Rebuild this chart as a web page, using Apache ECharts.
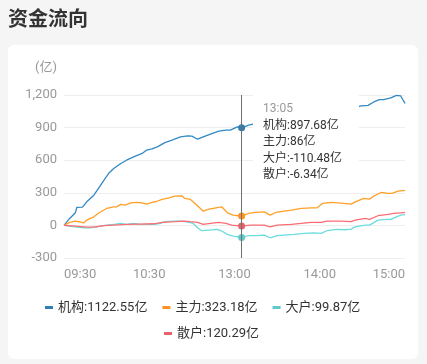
<!DOCTYPE html>
<html>
<head>
<meta charset="utf-8">
<script src="https://cdn.jsdelivr.net/npm/echarts@6/dist/echarts.min.js"></script>
<style>
  html, body { margin:0; padding:0; width:427px; height:364px; background:#f5f5f5; overflow:hidden; }
  #card { position:absolute; left:8px; top:45px; width:410px; height:314px; background:#fff; border-radius:6px; }
  #chart { position:absolute; left:0; top:0; width:427px; height:364px; }
</style>
</head>
<body>
<div id="card"></div>
<div id="chart"></div>
<script>
// ---- data ----
const titleText = '资金流向';
const unitName = '(亿)';
const tickLabels = ['09:30', '10:30', '13:00', '14:00', '15:00'];
const seriesNames = ['机构', '主力', '大户', '散户'];
const seriesColors = ['#2f7db3', '#ff9224', '#62c8c9', '#e6636a'];
const focusTime = '13:05';

// trading minutes: 09:30-11:29 and 13:00-15:00
const categories = [];
for (let m = 9 * 60 + 30; m < 11 * 60 + 30; m++) categories.push(String(Math.floor(m / 60)).padStart(2, '0') + ':' + String(m % 60).padStart(2, '0'));
for (let m = 13 * 60; m <= 15 * 60; m++) categories.push(String(Math.floor(m / 60)).padStart(2, '0') + ':' + String(m % 60).padStart(2, '0'));

const jigou = [
  ['09:30', 0], ['09:34', 64], ['09:38', 116], ['09:39', 165], ['09:43', 168], ['09:46', 217],
  ['09:51', 278], ['09:55', 355], ['09:59', 432], ['10:02', 487], ['10:05', 524], ['10:10', 570],
  ['10:14', 600], ['10:19', 630], ['10:25', 662], ['10:28', 692], ['10:32', 705], ['10:36', 725],
  ['10:41', 762], ['10:46', 784], ['10:52', 814], ['10:57', 823], ['11:00', 821], ['11:04', 793],
  ['11:08', 814], ['11:14', 845], ['11:19', 867], ['11:24', 876], ['11:27', 876], ['13:02', 906],
  ['13:05', 897.68], ['13:10', 922], ['13:13', 931], ['13:20', 945], ['13:30', 965], ['13:40', 990],
  ['13:50', 1010], ['14:00', 1030], ['14:10', 1050], ['14:18', 1070], ['14:25', 1084], ['14:29', 1099],
  ['14:34', 1105], ['14:38', 1136], ['14:42', 1158], ['14:45', 1158], ['14:50', 1173], ['14:54', 1197],
  ['14:57', 1191], ['15:00', 1122.55]
];
const zhuli = [
  ['09:30', 0], ['09:34', 28], ['09:38', 40], ['09:41', 33], ['09:44', 24], ['09:46', 49],
  ['09:51', 79], ['09:55', 119], ['10:00', 156], ['10:05', 171], ['10:07', 171], ['10:10', 193],
  ['10:13', 187], ['10:17', 208], ['10:21', 211], ['10:25', 208], ['10:28', 196], ['10:32', 211],
  ['10:35', 220], ['10:39', 239], ['10:44', 254], ['10:48', 269], ['10:53', 272], ['10:55', 248],
  ['10:59', 239], ['11:03', 193], ['11:06', 156], ['11:08', 131], ['11:12', 150], ['11:17', 162],
  ['11:21', 171], ['11:25', 116], ['11:29', 95], ['13:05', 86], ['13:10', 110], ['13:15', 119],
  ['13:21', 125], ['13:25', 95], ['13:29', 119], ['13:35', 131], ['13:40', 141], ['13:47', 156],
  ['13:54', 162], ['13:58', 162], ['14:02', 202], ['14:08', 211], ['14:15', 205], ['14:22', 196],
  ['14:25', 217], ['14:31', 248], ['14:35', 242], ['14:38', 269], ['14:43', 303], ['14:48', 294],
  ['14:51', 294], ['14:55', 315], ['15:00', 323.18]
];
const dahu = [
  ['09:30', 0], ['09:38', -13], ['09:44', -22], ['09:48', -22], ['09:53', -13], ['10:00', 3],
  ['10:05', 9], ['10:10', 18], ['10:14', 9], ['10:19', 18], ['10:24', 9], ['10:28', 9],
  ['10:34', 9], ['10:38', 18], ['10:41', 34], ['10:48', 40], ['10:53', 40], ['10:58', 28],
  ['11:01', 18], ['11:04', -22], ['11:07', -49], ['11:12', -43], ['11:18', -37], ['11:21', -52],
  ['11:25', -83], ['11:29', -98], ['13:05', -110.48], ['13:10', -95], ['13:15', -95], ['13:21', -89],
  ['13:25', -114], ['13:30', -95], ['13:35', -89], ['13:42', -83], ['13:49', -74], ['13:56', -68],
  ['14:01', -74], ['14:05', -49], ['14:12', -37], ['14:18', -40], ['14:22', -34], ['14:25', -13],
  ['14:32', 3], ['14:35', 3], ['14:41', 49], ['14:47', 55], ['14:50', 55], ['14:54', 79],
  ['14:57', 95], ['15:00', 99.87]
];
const sanhu = [
  ['09:30', 0], ['09:38', -6], ['09:46', -15], ['09:51', -15], ['09:58', -3], ['10:05', 3],
  ['10:14', 9], ['10:24', 12], ['10:33', 15], ['10:39', 28], ['10:48', 34], ['10:55', 40],
  ['10:59', 34], ['11:04', 28], ['11:08', 9], ['11:13', 18], ['11:19', 28], ['11:24', 18],
  ['11:28', 3], ['13:05', -6.34], ['13:11', 3], ['13:21', 3], ['13:25', -13], ['13:30', 3],
  ['13:40', 9], ['13:47', 18], ['13:54', 28], ['14:01', 28], ['14:05', 40], ['14:15', 40],
  ['14:22', 34], ['14:25', 49], ['14:32', 64], ['14:35', 55], ['14:41', 89], ['14:48', 101],
  ['14:52', 110], ['14:57', 116], ['15:00', 120.29]
];
const allData = [jigou, zhuli, dahu, sanhu];

// ---- chart ----
const FONT = 'Roboto, "Noto Sans CJK SC", sans-serif';
const chart = echarts.init(document.getElementById('chart'), null, { renderer: 'canvas' });
const lastVal = {};
seriesNames.forEach((n, i) => { const d = allData[i]; lastVal[n] = d[d.length - 1][1]; });

const option = {
  animation: false,
  backgroundColor: 'transparent',
  textStyle: { fontFamily: FONT },
  color: seriesColors,
  title: {
    text: titleText, left: 3, top: 3,
    textStyle: { fontSize: 20, fontWeight: 'bold', color: '#333', fontFamily: '"Noto Sans CJK SC", sans-serif' }
  },
  grid: { left: 64, right: 22, top: 95, bottom: 106, containLabel: false },
  legend: [
    {
      data: seriesNames.slice(0, 3), left: 45, top: 301, padding: 0,
      icon: 'rect', itemWidth: 8, itemHeight: 3, itemGap: 15,
      textStyle: { fontSize: 13, color: '#333', fontFamily: FONT },
      formatter: n => n + ':' + lastVal[n] + '亿', selectedMode: false
    },
    {
      data: seriesNames.slice(3), left: 164, top: 327, padding: 0,
      icon: 'rect', itemWidth: 8, itemHeight: 3, itemGap: 15,
      textStyle: { fontSize: 13, color: '#333', fontFamily: FONT },
      formatter: n => n + ':' + lastVal[n] + '亿', selectedMode: false
    }
  ],
  tooltip: {
    trigger: 'axis',
    triggerOn: 'none',
    alwaysShowContent: true,
    transitionDuration: 0,
    position: [253, 91],
    backgroundColor: '#ffffff',
    borderWidth: 0,
    padding: [9, 17, 8, 10],
    extraCssText: 'box-shadow:none;border-radius:0;',
    axisPointer: { type: 'line', lineStyle: { color: '#707070', width: 1, type: 'solid' }, label: { show: false } },
    formatter: function (params) {
      let s = '<div style="font-family:' + FONT.replace(/"/g, "'") + ';font-size:12px;line-height:16.5px;">';
      s += '<div style="color:#999">' + params[0].axisValue + '</div>';
      params.forEach(p => { s += '<div style="color:#333">' + p.seriesName + ':' + p.value[1] + '亿</div>'; });
      return s + '</div>';
    }
  },
  xAxis: {
    type: 'category',
    data: categories,
    boundaryGap: false,
    axisLine: { show: false },
    axisTick: { show: false },
    splitLine: { show: false },
    axisLabel: {
      color: '#999', fontSize: 13, margin: 10, fontFamily: FONT,
      interval: (i, v) => tickLabels.indexOf(v) >= 0,
      alignMinLabel: 'left', alignMaxLabel: 'right', showMinLabel: true, showMaxLabel: true
    }
  },
  yAxis: {
    type: 'value',
    min: -300, max: 1200, interval: 300,
    name: unitName, nameLocation: 'end', nameGap: 27,
    nameTextStyle: { color: '#999', fontSize: 13, align: 'right', verticalAlign: 'middle', padding: [0, 7, 0, 0], fontFamily: FONT },
    axisLine: { show: false },
    axisTick: { show: false },
    axisLabel: { color: '#999', fontSize: 13, margin: 7, fontFamily: FONT },
    splitLine: { lineStyle: { color: '#eeeeee', width: 1 } }
  },
  series: seriesNames.map((n, i) => ({
    name: n,
    type: 'line',
    data: allData[i],
    showSymbol: false,
    symbol: 'circle',
    symbolSize: 7,
    lineStyle: { width: 1.3, color: seriesColors[i] },
    itemStyle: { color: seriesColors[i], borderWidth: 0 },
    emphasis: { scale: false, lineStyle: { width: 1.3 }, itemStyle: { borderWidth: 0 } }
  }))
};
chart.setOption(option);

const pt = chart.convertToPixel({ xAxisIndex: 0, yAxisIndex: 0 }, [focusTime, jigou.find(d => d[0] === focusTime)[1]]);
chart.dispatchAction({ type: 'showTip', x: pt[0], y: pt[1] });
</script>
</body>
</html>
